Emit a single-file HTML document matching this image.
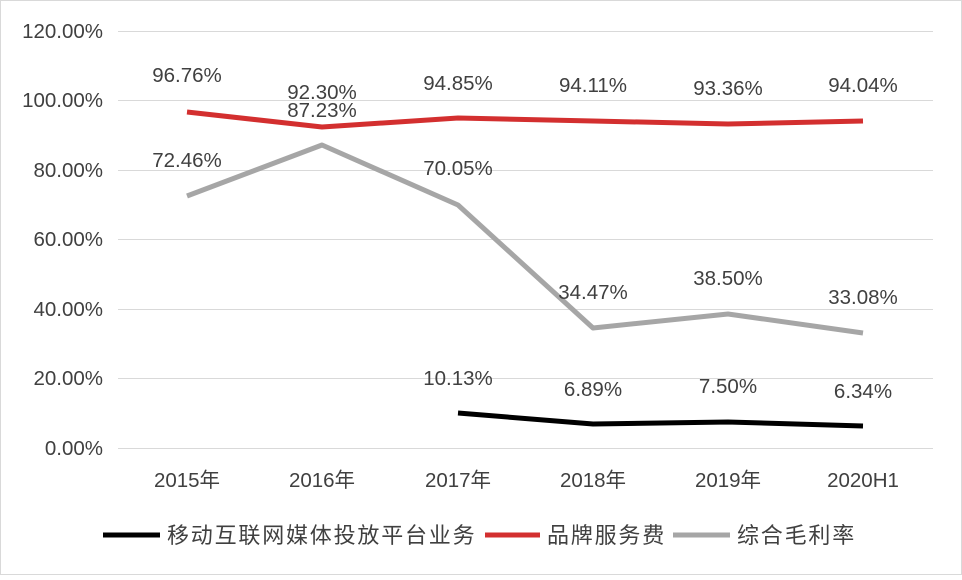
<!DOCTYPE html>
<html><head><meta charset="utf-8"><style>
body{margin:0;background:#fff}
svg text{font-family:"Liberation Sans","Noto Sans CJK SC",sans-serif;fill:#404040}
</style></head><body>
<svg width="962" height="575" viewBox="0 0 962 575" xmlns="http://www.w3.org/2000/svg">
<rect x="0.5" y="0.5" width="961" height="574" fill="#fff" stroke="#d9d9d9"/>
<g stroke="#d9d9d9" stroke-width="1">
<line x1="118" x2="933" y1="31.5" y2="31.5"/>
<line x1="118" x2="933" y1="100.5" y2="100.5"/>
<line x1="118" x2="933" y1="170.5" y2="170.5"/>
<line x1="118" x2="933" y1="239.5" y2="239.5"/>
<line x1="118" x2="933" y1="309.5" y2="309.5"/>
<line x1="118" x2="933" y1="378.5" y2="378.5"/>
<line x1="118" x2="933" y1="448.5" y2="448.5"/>
</g>
<g font-size="20.5" text-anchor="end">
<text x="103" y="38">120.00%</text>
<text x="103" y="107">100.00%</text>
<text x="103" y="177">80.00%</text>
<text x="103" y="246">60.00%</text>
<text x="103" y="316">40.00%</text>
<text x="103" y="385">20.00%</text>
<text x="103" y="455">0.00%</text>
</g>
<g font-size="20.5" text-anchor="middle">
<text x="187" y="487">2015年</text>
<text x="322" y="487">2016年</text>
<text x="458" y="487">2017年</text>
<text x="593" y="487">2018年</text>
<text x="728" y="487">2019年</text>
<text x="863" y="487">2020H1</text>
</g>
<g fill="none" stroke-width="5" stroke-linejoin="round">
<polyline stroke="#a6a6a6" points="187,196 322,145 458,205 593,328 728,314 863,333"/>
<polyline stroke="#d32f2f" points="187,112 322,127 458,118 593,121 728,124 863,121"/>
<polyline stroke="#000" points="458,413 593,424 728,422 863,426"/>
</g>
<g font-size="20.5" text-anchor="middle">
<text x="187" y="82">96.76%</text>
<text x="322" y="99">92.30%</text>
<text x="458" y="90">94.85%</text>
<text x="593" y="92">94.11%</text>
<text x="728" y="95">93.36%</text>
<text x="863" y="92">94.04%</text>
<text x="187" y="167">72.46%</text>
<text x="322" y="117">87.23%</text>
<text x="458" y="175">70.05%</text>
<text x="593" y="299">34.47%</text>
<text x="728" y="285">38.50%</text>
<text x="863" y="304">33.08%</text>
<text x="458" y="385">10.13%</text>
<text x="593" y="396">6.89%</text>
<text x="728" y="393">7.50%</text>
<text x="863" y="398">6.34%</text>
</g>
<g stroke-width="5">
<line x1="103" x2="160" y1="535" y2="535" stroke="#000"/>
<line x1="485" x2="540" y1="535" y2="535" stroke="#d32f2f"/>
<line x1="673" x2="730" y1="535" y2="535" stroke="#a6a6a6"/>
</g>
<g font-size="22" letter-spacing="1.8">
<text x="167" y="543">移动互联网媒体投放平台业务</text>
<text x="547" y="543">品牌服务费</text>
<text x="737" y="543">综合毛利率</text>
</g>
</svg>
</body></html>
